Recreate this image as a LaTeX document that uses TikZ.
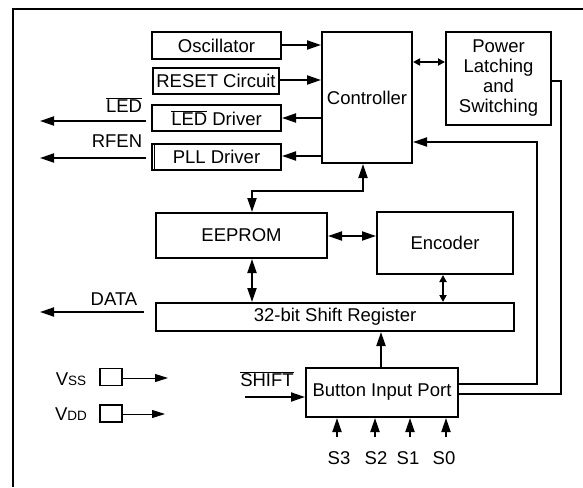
\documentclass[tikz,border=0pt]{standalone}
\usepackage{fontspec}
\setmainfont{Liberation Sans}
\usetikzlibrary{arrows.meta}
\begin{document}
\begin{tikzpicture}[x=1pt,y=-1pt,
  font=\fontsize{18.5}{20}\selectfont,
  box/.style={draw, line width=2pt, inner sep=0pt, align=center},
  vbox/.style={draw, line width=1.3pt, inner sep=0pt, minimum width=22pt, minimum height=17pt},
  lbl/.style={inner sep=0pt},
  arr/.style={line width=2pt, -{Triangle[length=14pt,width=9pt]}},
  darr/.style={line width=2pt, {Triangle[length=14pt,width=9pt]}-{Triangle[length=14pt,width=9pt]}},
  sdarr/.style={line width=2pt, {Triangle[length=7pt,width=7pt]}-{Triangle[length=7pt,width=7pt]}},
  thinarr/.style={line width=1pt, -{Triangle[length=13pt,width=8pt]}},
  wire/.style={line width=2pt},
]
\useasboundingbox (0,0) rectangle (583,487);
\draw[line width=2pt] (13,487) -- (13,9) -- (583,9);

% boxes
\node[box, minimum width=129pt, minimum height=27pt] (osc) at (216.5,45.5) {Oscillator};
\node[box, minimum width=126pt, minimum height=26pt] (reset) at (216,81) {RESET Circuit};
\node[box, minimum width=129pt, minimum height=26pt] (led) at (216.5,118) {$\overline{\mbox{LED}}$ Driver};
\node[box, minimum width=129pt, minimum height=26pt] (pll) at (216.5,157) {PLL Driver};
\draw[line width=1.3pt] ([xshift=3.5pt]pll.north west) -- ([xshift=3.5pt]pll.south west);
\node[box, minimum width=90pt, minimum height=131pt] (ctrl) at (367,97.5) {Controller};
\node[box, minimum width=105pt, minimum height=93pt] (power) at (498.5,78.5) {Power\\Latching\\and\\Switching};
\node[box, minimum width=171pt, minimum height=45pt] (eeprom) at (241.5,235.5) {EEPROM};
\node[box, minimum width=136pt, minimum height=62pt] (enc) at (445,243) {Encoder};
\node[box, minimum width=358pt, minimum height=28pt] (sr) at (335,317) {32-bit Shift Register};
\node[box, minimum width=152pt, minimum height=49pt] (btn) at (382,392.5) {Button Input Port};

% connections to controller
\draw[arr] (osc.east |- 0,45) -- (ctrl.west |- 0,45);
\draw[arr] (reset.east |- 0,80) -- (ctrl.west |- 0,80);
\draw[arr] (ctrl.west |- 0,118) -- (led.east |- 0,118);
\draw[arr] (ctrl.west |- 0,156) -- (pll.east |- 0,156);
\draw[sdarr] (ctrl.east |- 0,62) -- (power.west |- 0,62);

% outputs left
\coordinate (ledA) at (146,121); \coordinate (ledB) at (40,121);
\draw[arr] (ledA) -- (ledB);
\node[lbl] (ledl) at (124,105) {$\overline{\mbox{LED}}$};
\coordinate (rfA) at (146,158); \coordinate (rfB) at (40,158);
\draw[arr] (rfA) -- (rfB);
\node[lbl] (rfl) at (117,141) {RFEN};
\coordinate (dA) at (144,312); \coordinate (dB) at (40,312);
\draw[arr] (dA) -- (dB);
\node[lbl] (dl) at (114,299) {DATA};

% controller <-> eeprom
\coordinate (j1) at (363,191); \coordinate (j2) at (252,191);
\draw[darr] (eeprom.north -| j2) -- (j2) -- (j1) -- (ctrl.south -| j1);

% eeprom, encoder, shift register
\draw[darr] (eeprom.east |- 0,236) -- (enc.west |- 0,236);
\coordinate (x252) at (252,0);
\draw[darr] (eeprom.south -| x252) -- (sr.north -| x252);
\coordinate (x443) at (443,0);
\draw[sdarr] (enc.south -| x443) -- (sr.north -| x443);
\coordinate (x381) at (381,0);
\draw[arr] (btn.north -| x381) -- (sr.south -| x381);

% button to controller / power
\coordinate (b1) at (537,384); \coordinate (b2) at (537,142);
\draw[arr] (btn.east |- b1) -- (b1) -- (b2) -- (ctrl.east |- b2);
\coordinate (p1) at (561,394); \coordinate (p2) at (561,81);
\draw[wire] (btn.east |- p1) -- (p1) -- (p2) -- (power.east |- p2);

% SHIFT input
\coordinate (sh) at (245,397);
\draw[arr] (sh) -- (btn.west |- sh);
\node[lbl] (shl) at (267,379) {$\overline{\mbox{SHIFT}}$};

% S inputs
\foreach \n/\x/\lx in {S3/337/339, S2/375/376, S1/410/408, S0/446/444} {
  \coordinate (c\n) at (\x,437);
  \draw[arr] (c\n) -- (btn.south -| c\n);
  \node[lbl] (l\n) at (\lx,458) {\n};
}

% Vss / Vdd
\node[vbox] (vssbox) at (111,377) {};
\coordinate (vssend) at (168,378);
\draw[thinarr] (vssbox.east |- vssend) -- (vssend);
\node[lbl] (vssl) at (71,379) {V{\fontsize{13.5}{14}\selectfont SS}};
\node[vbox] (vddbox) at (111,413.5) {};
\coordinate (vddend) at (165,414);
\draw[thinarr] (vddbox.east |- vddend) -- (vddend);
\node[lbl] (vddl) at (71,414) {V{\fontsize{13.5}{14}\selectfont DD}};
\end{tikzpicture}
\end{document}
